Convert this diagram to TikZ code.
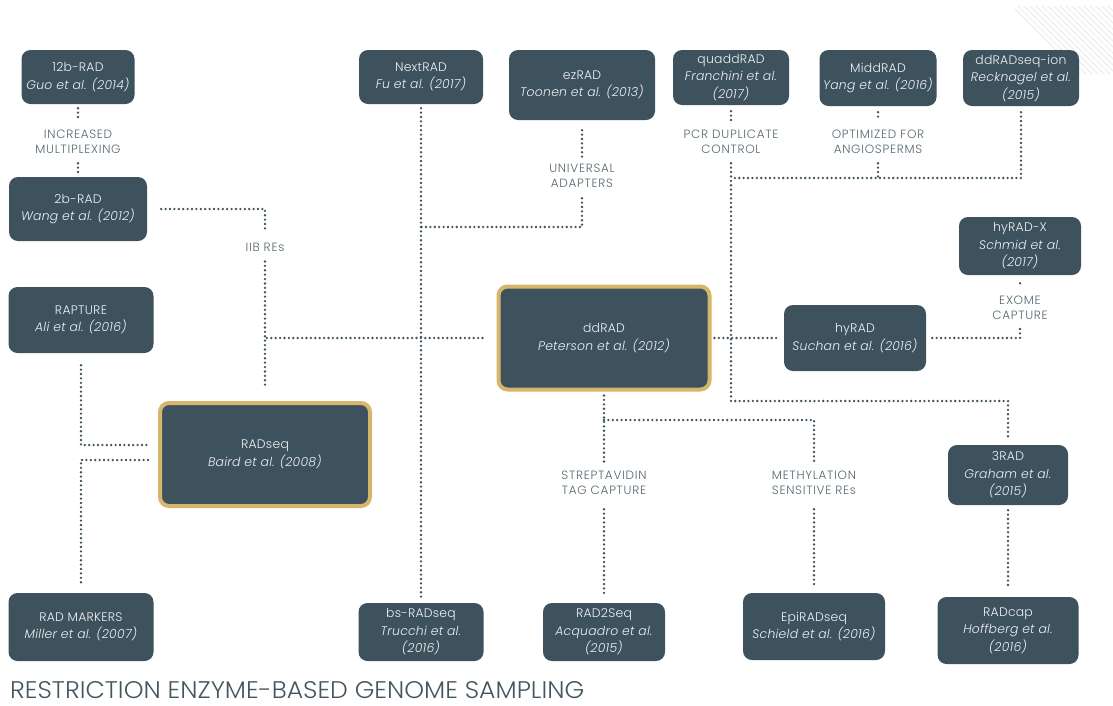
\documentclass[tikz,border=0pt]{standalone}
\usepackage{fontspec}
\usepackage{graphicx}
\setmainfont{Poppins}[UprightFont={* Light}, ItalicFont={* Light Italic}]
\usetikzlibrary{calc}

\definecolor{slate}{HTML}{3E525E}
\definecolor{gold}{HTML}{D6B66C}
\definecolor{boxtext}{HTML}{EEF2F3}
\definecolor{labeltext}{HTML}{56666F}
\definecolor{titletext}{HTML}{45565F}
\definecolor{stripe}{HTML}{ECEFF2}

\tikzset{
  method/.style={fill=slate, rounded corners=9pt, text=boxtext, align=center,
    font=\fontsize{12.4}{17.5}\selectfont\addfontfeatures{LetterSpace=2}, inner sep=0pt},
  keymethod/.style={method, draw=gold, line width=4pt},
  tag/.style={text=labeltext, align=center, inner sep=0pt,
    font=\fontsize{12}{15.5}\selectfont\addfontfeatures{LetterSpace=6}},
  link/.style={draw=slate, line width=2.6pt, line cap=round,
    dash pattern=on 0pt off 4.4pt},
}

\begin{document}
\begin{tikzpicture}[x=1pt,y=-1pt]
\useasboundingbox (0,0) rectangle (1113,705);

% faint hatching in the upper right corner
\begin{scope}
  \clip (1015,6) rectangle (1113,92);
  \foreach \k in {0,...,16}
    \draw[stripe, line width=1.1pt] (1010+6*\k,4) -- ++(70,70);
\end{scope}

% ---- methods ----
\node[method, minimum width=113pt, minimum height=54pt] (b12) at (78,77)
  {12b-RAD\\\textit{Guo et al. (2014)}};
\node[method, minimum width=138pt, minimum height=64pt] (b2) at (78,209)
  {2b-RAD\\\textit{Wang et al. (2012)}};
\node[method, minimum width=145pt, minimum height=66pt] (rapture) at (81,320)
  {RAPTURE\\\textit{Ali et al. (2016)}};
\node[keymethod, minimum width=210pt, minimum height=103pt] (radseq) at (265,454.5)
  {RADseq\\\textit{Baird et al. (2008)}};
\node[method, minimum width=145pt, minimum height=68pt] (radmarkers) at (81,627)
  {RAD MARKERS\\\textit{Miller et al. (2007)}};

\node[method, minimum width=124pt, minimum height=54pt] (nextrad) at (421,77)
  {NextRAD\\\textit{Fu et al. (2017)}};
\node[method, minimum width=146pt, minimum height=70pt] (ezrad) at (582,85)
  {ezRAD\\\textit{Toonen et al. (2013)}};
\node[method, minimum width=116pt, minimum height=55pt] (quaddrad) at (731,77.5)
  {quaddRAD\\\textit{Franchini et al.}\\\textit{(2017)}};
\node[method, minimum width=117pt, minimum height=56pt] (middrad) at (878,78)
  {MiddRAD\\\textit{Yang et al. (2016)}};
\node[method, minimum width=116pt, minimum height=56pt] (ddradion) at (1021,78)
  {ddRADseq-ion\\\textit{Recknagel et al.}\\\textit{(2015)}};
\node[method, minimum width=122pt, minimum height=58pt] (hyradx) at (1020,246)
  {hyRAD-X\\\textit{Schmid et al.}\\\textit{(2017)}};

\node[keymethod, minimum width=211pt, minimum height=103pt] (ddrad) at (604,338)
  {ddRAD\\\textit{Peterson et al. (2012)}};
\node[method, minimum width=142pt, minimum height=66pt] (hyrad) at (855,338)
  {hyRAD\\\textit{Suchan et al. (2016)}};
\node[method, minimum width=120pt, minimum height=60pt] (threerad) at (1008,475)
  {3RAD\\\textit{Graham et al.}\\\textit{(2015)}};

\node[method, minimum width=125pt, minimum height=58pt] (bsradseq) at (421,632)
  {bs-RADseq\\\textit{Trucchi et al.}\\\textit{(2016)}};
\node[method, minimum width=122pt, minimum height=58pt] (rad2seq) at (604,632)
  {RAD2Seq\\\textit{Acquadro et al.}\\\textit{(2015)}};
\node[method, minimum width=142pt, minimum height=67pt] (epiradseq) at (814,626.5)
  {EpiRADseq\\\textit{Schield et al. (2016)}};
\node[method, minimum width=141pt, minimum height=67pt] (radcap) at (1008,630.5)
  {RADcap\\\textit{Hoffberg et al.}\\\textit{(2016)}};

% ---- modification labels ----
\node[tag] (lblmulti) at (78,142) {INCREASED\\MULTIPLEXING};
\node[tag] (lbliib) at (265,247) {IIB REs};
\node[tag] (lbluni) at (582,176) {UNIVERSAL\\ADAPTERS};
\node[tag] (lblpcr) at (731,142) {PCR DUPLICATE\\CONTROL};
\node[tag] (lblangio) at (878,142) {OPTIMIZED FOR\\ANGIOSPERMS};
\node[tag] (lblexome) at (1020,308) {EXOME\\CAPTURE};
\node[tag] (lblstrep) at (604,483) {STREPTAVIDIN\\TAG CAPTURE};
\node[tag] (lblmeth) at (814,483) {METHYLATION\\SENSITIVE REs};

% ---- junctions ----
\coordinate (jUni) at (421,227);
\coordinate (jTop) at (731,178);
\coordinate (j3) at (1008,401);
\coordinate (jSplit) at (604,420);

% ---- connectors ----
\draw[link, shorten <=4pt, shorten >=9pt] (b12.south) -- (lblmulti.north);
\draw[link, shorten <=9pt, shorten >=4pt] (lblmulti.south) -- (b2.north);

\draw[link, shorten <=14pt, shorten >=11pt] (b2.east) -| (lbliib.north);
\draw[link, shorten <=10pt, shorten >=13pt] (lbliib.south) -- (radseq.north);
\draw[link, shorten <=14pt] (ddrad.west) -- (ddrad.west -| lbliib.south);

\draw[link, shorten <=12pt, shorten >=10pt] (rapture.south) |- ([yshift=9.5pt]radseq.west);
\draw[link, shorten <=10pt, shorten >=7pt] ([yshift=-5.5pt]radseq.west) -| (radmarkers.north);

\draw[link, shorten <=4pt, shorten >=6pt] (nextrad.south) -- (bsradseq.north);
\draw[link, shorten <=10pt, shorten >=6pt] (ezrad.south) -- (lbluni.north);
\draw[link, shorten <=10pt] (lbluni.south) |- (jUni);

\draw[link, shorten <=6pt, shorten >=9pt] (quaddrad.south) -- (lblpcr.north);
\draw[link, shorten <=9pt, shorten >=6pt] (lblpcr.south) |- (j3) -- (threerad.north);
\draw[link, shorten <=6pt, shorten >=9pt] (middrad.south) -- (lblangio.north);
\draw[link, shorten <=9pt] (lblangio.south) -- (lblangio.south |- jTop);
\draw[link, shorten <=6pt] (ddradion.south) |- (jTop);

\draw[link, shorten <=3pt, shorten >=4pt] (ddrad.east) -- (hyrad.west);
\draw[link, shorten <=6pt, shorten >=8pt] (hyrad.east) -| (lblexome.south);
\draw[link, shorten <=8pt, shorten >=11pt] (hyradx.south) -- (lblexome.north);
\draw[link, shorten <=5pt, shorten >=8pt] (threerad.south) -- (radcap.north);

\draw[link, shorten <=4pt, shorten >=9pt] (ddrad.south) -- (lblstrep.north);
\draw[link, shorten >=9pt] (jSplit) -| (lblmeth.north);
\draw[link, shorten <=14pt, shorten >=6pt] (lblstrep.south) -- (rad2seq.north);
\draw[link, shorten <=14pt, shorten >=5pt] (lblmeth.south) -- (epiradseq.north);

% ---- title ----
\node[anchor=south west, inner sep=0pt, text=titletext] (title) at (10,699)
  {\resizebox{574pt}{17pt}{RESTRICTION ENZYME-BASED GENOME SAMPLING}};
\end{tikzpicture}
\end{document}
